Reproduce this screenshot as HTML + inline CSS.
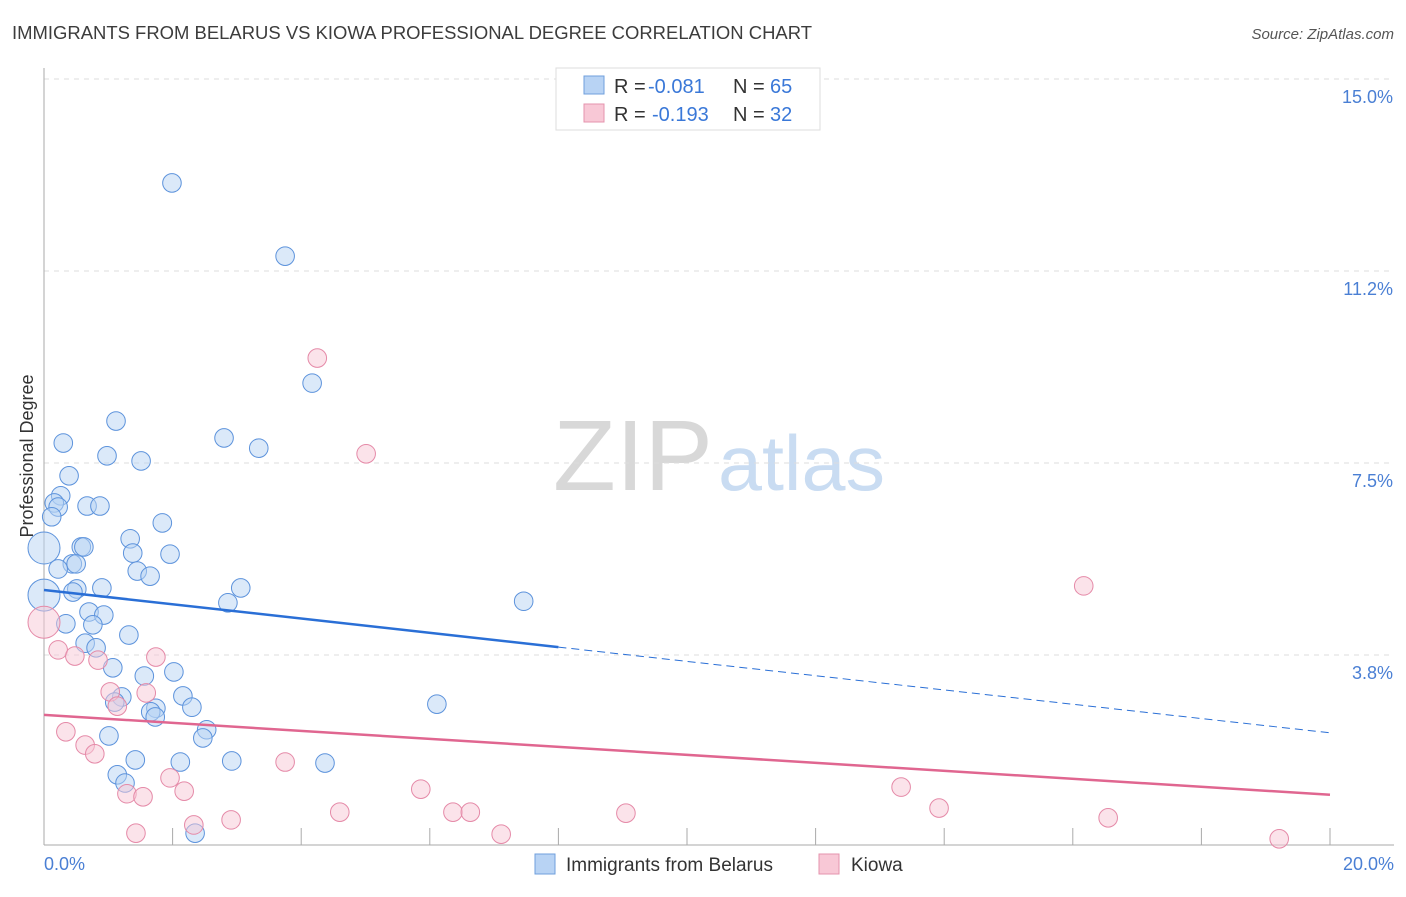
<!DOCTYPE html>
<html><head><meta charset="utf-8"><style>
body{margin:0;background:#fff;font-family:"Liberation Sans",sans-serif}
svg text{font-family:"Liberation Sans",sans-serif}
</style></head><body>
<svg id="chart" width="1406" height="892" viewBox="0 0 1406 892" xmlns="http://www.w3.org/2000/svg">
<text x="12" y="39" font-size="18" fill="#3c3c3c" textLength="800" lengthAdjust="spacingAndGlyphs">IMMIGRANTS FROM BELARUS VS KIOWA PROFESSIONAL DEGREE CORRELATION CHART</text>
<text x="1394" y="39" font-size="15" fill="#555" text-anchor="end" font-style="italic">Source: ZipAtlas.com</text>
<g>
<text x="553" y="490" font-size="100" font-family="Liberation Serif" fill="#d8d8d8" textLength="160" lengthAdjust="spacingAndGlyphs">ZIP</text>
<text x="718" y="490" font-size="78" fill="#c9dcf2" textLength="167" lengthAdjust="spacingAndGlyphs">atlas</text>
</g>
<g id="grid"></g>
<g id="axes"></g>
<g id="marks"></g>
<text transform="translate(33,456) rotate(-90)" font-size="18" fill="#333" text-anchor="middle">Professional Degree</text>
<text x="44" y="870" font-size="18" fill="#4a7fd4">0.0%</text>
<text x="1394" y="870" font-size="18" fill="#4a7fd4" text-anchor="end">20.0%</text>
<g>
<rect x="556" y="68" width="264" height="62" fill="#fff" stroke="#ddd"/>
<rect x="584" y="76" width="20" height="18" fill="#b8d3f4" stroke="#6f9fdc"/>
<rect x="584" y="104" width="20" height="18" fill="#f8c8d6" stroke="#e593ad"/>
<text x="614" y="93" font-size="20" fill="#333">R =</text>
<text x="648" y="93" font-size="20" fill="#3a78d8">-0.081</text>
<text x="733" y="93" font-size="20" fill="#333">N =</text>
<text x="770" y="93" font-size="20" fill="#3a78d8">65</text>
<text x="614" y="121" font-size="20" fill="#333">R =</text>
<text x="652" y="121" font-size="20" fill="#3a78d8">-0.193</text>
<text x="733" y="121" font-size="20" fill="#333">N =</text>
<text x="770" y="121" font-size="20" fill="#3a78d8">32</text>
</g>
<g>
<rect x="535" y="854" width="20" height="20" fill="#b8d3f4" stroke="#6f9fdc"/>
<text x="566" y="871" font-size="19" fill="#333">Immigrants from Belarus</text>
<rect x="819" y="854" width="20" height="20" fill="#f8c8d6" stroke="#e593ad"/>
<text x="851" y="871" font-size="19" fill="#333">Kiowa</text>
</g>
</svg>
<script>
const yTicks=[3.75,7.5,11.25,15];
const yTickLabels=["3.8%","7.5%","11.2%","15.0%"];
const xTicks=[0,2,4,6,8,10,12,14,16,18,20];
const belarusX=[1.99,3.75,4.17,1.12,2.80,3.34,0.30,0.98,1.51,0.39,0.26,0.16,0.22,0.67,0.87,0.12,1.84,1.34,0.0,0.58,0.62,1.38,1.96,0.44,0.50,0.22,1.45,1.65,3.06,0.51,0.45,0.90,0.0,2.86,7.46,0.70,0.93,1.32,0.34,0.76,0.64,0.81,1.07,2.02,1.56,2.16,1.21,1.10,1.74,1.66,1.73,2.30,6.11,2.53,2.47,1.01,1.42,2.12,2.92,4.37,1.14,1.26,2.35];
const belarusY=[12.97,11.54,9.06,8.32,7.99,7.79,7.89,7.64,7.54,7.25,6.86,6.72,6.64,6.66,6.66,6.45,6.33,6.02,5.84,5.86,5.86,5.74,5.72,5.53,5.53,5.43,5.39,5.29,5.06,5.04,4.98,5.06,4.92,4.77,4.80,4.59,4.53,4.14,4.36,4.34,3.98,3.89,3.50,3.42,3.34,2.95,2.93,2.83,2.71,2.64,2.54,2.73,2.79,2.29,2.13,2.17,1.70,1.66,1.68,1.64,1.41,1.25,0.27];
const kiowaX=[0,0.22,0.48,0.84,1.74,4.25,5.01,16.17,1.03,1.59,1.14,0.34,0.64,0.79,3.75,1.96,1.29,2.18,1.54,5.86,13.33,4.60,6.36,6.63,13.92,9.05,2.91,2.33,1.43,7.11,16.55,19.21];
const kiowaY=[4.39,3.85,3.73,3.65,3.71,9.55,7.68,5.10,3.03,3.01,2.75,2.25,1.99,1.82,1.66,1.35,1.04,1.09,0.98,1.13,1.17,0.68,0.68,0.68,0.76,0.66,0.53,0.43,0.27,0.25,0.57,0.16];
const belarusTrend=[5.02,2.23];
const kiowaTrend=[2.58,1.02];
const belarusSolidEnd=8.0;
const NS="http://www.w3.org/2000/svg";
const X=v=>44+v/20*1286;
const Y=v=>847-v/3.75*192;
function mk(tag,attrs,parent){const e=document.createElementNS(NS,tag);for(const k in attrs)e.setAttribute(k,attrs[k]);document.getElementById(parent).appendChild(e);return e;}
yTicks.forEach((t,i)=>{
 const g=mk('line',{x1:44,x2:1394,y1:Y(t),y2:Y(t),stroke:'#ddd','stroke-dasharray':'5,5'},'grid');
 
 
 const l=mk('text',{x:1393,y:Y(t)+24,'font-size':18,fill:'#4a7fd4','text-anchor':'end'},'axes');
 l.textContent=yTickLabels[i];
 
 
});
const ya=mk('line',{x1:44,x2:44,y1:68,y2:845,stroke:'#aaa'},'axes');


const xa=mk('line',{x1:44,x2:1394,y1:845,y2:845,stroke:'#aaa'},'axes');


xTicks.forEach(t=>{
 const tk=mk('line',{x1:X(t),x2:X(t),y1:828,y2:845,stroke:'#aaa'},'axes');
 
 
});
function dots(xs,ys,fill,stroke,name){
 xs.forEach((x,i)=>{
  const c=mk('circle',{cx:X(x),cy:Y(ys[i]),r:x===0?16:9.3,fill:fill,'fill-opacity':0.5,stroke:stroke,'stroke-width':1},'marks');
  
  
 });
}
dots(belarusX,belarusY,'#b8d3f4','#5d93dc','belarus-point');
dots(kiowaX,kiowaY,'#f8c8d6','#e58aa8','kiowa-point');
const by=v=>belarusTrend[0]+(belarusTrend[1]-belarusTrend[0])*v/20;
const bl=mk('line',{x1:X(0),y1:Y(by(0)),x2:X(belarusSolidEnd),y2:Y(by(belarusSolidEnd)),stroke:'#2a6fd6','stroke-width':2.5},'marks');


const bd=mk('line',{x1:X(belarusSolidEnd),y1:Y(by(belarusSolidEnd)),x2:X(20),y2:Y(by(20)),stroke:'#2a6fd6','stroke-width':1,'stroke-dasharray':'8,5'},'marks');


const kl=mk('line',{x1:X(0),y1:Y(kiowaTrend[0]),x2:X(20),y2:Y(kiowaTrend[1]),stroke:'#e06690','stroke-width':2.5},'marks');


</script>
</body></html>
